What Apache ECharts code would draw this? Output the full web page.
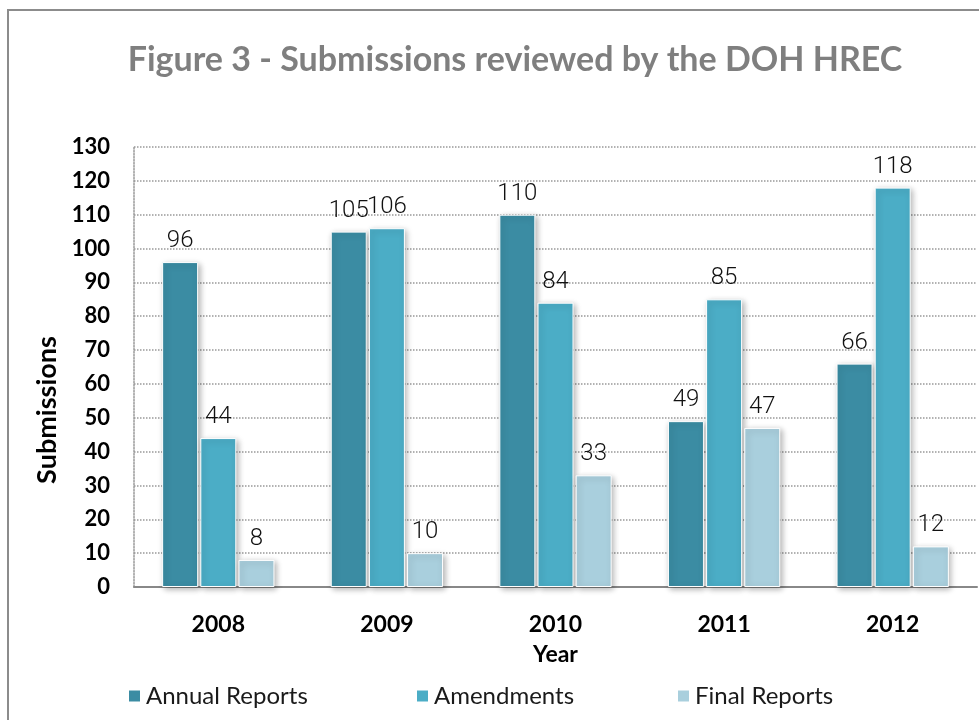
<!DOCTYPE html>
<html>
<head>
<meta charset="utf-8">
<script src="https://cdn.jsdelivr.net/npm/echarts@6/dist/echarts.min.js"></script>
<style>
  html, body { margin: 0; padding: 0; background: #fff; }
  #chart { width: 979px; height: 720px; }
</style>
</head>
<body>
<div id="chart"></div>
<script>
const years = ["2008", "2009", "2010", "2011", "2012"];
const annualReports = [96, 105, 110, 49, 66];
const amendments = [44, 106, 84, 85, 118];
const finalReports = [8, 10, 33, 47, 12];
const seriesNames = ["Annual Reports", "Amendments", "Final Reports"];
const colors = ["#3b8ca3", "#4badc6", "#a9cfdd"];

const labelFont = 'Roboto, sans-serif';
const boldFont = 'Lato, "Open Sans", sans-serif';

const chart = echarts.init(document.getElementById("chart"));

function makeSeries(name, data, color) {
  return {
    name: name,
    type: "bar",
    data: data,
    barWidth: 36,
    barGap: "6%",
    itemStyle: {
      color: color,
      borderColor: "#ffffff",
      borderWidth: 1,
      shadowBlur: 6,
      shadowColor: "rgba(0,0,0,0.3)",
      shadowOffsetX: 2,
      shadowOffsetY: 2
    },
    label: {
      show: true,
      position: "top",
      distance: 9,
      color: "#111",
      fontFamily: labelFont,
      fontWeight: 300,
      fontSize: 24
    },
    emphasis: { disabled: true }
  };
}

function legendAt(name, left) {
  return {
    data: [name],
    left: left,
    top: 679,
    itemWidth: 13,
    itemHeight: 13,
    itemGap: 8,
    icon: "rect",
    textStyle: { fontFamily: boldFont, fontSize: 24, color: "#1a1a1a" }
  };
}

chart.setOption({
  animation: false,
  color: colors,
  title: {
    text: "Figure 3 - Submissions reviewed by the DOH HREC",
    left: 510,
    textAlign: "center",
    top: 38,
    textStyle: { fontFamily: boldFont, fontSize: 34, fontWeight: "bold", color: "#7f7f7f" }
  },
  legend: [
    legendAt(seriesNames[0], 122),
    legendAt(seriesNames[1], 410),
    legendAt(seriesNames[2], 671)
  ],
  graphic: [
    {
      type: "rect",
      shape: { x: 8, y: 10, width: 1200, height: 1200 },
      style: { fill: "none", stroke: "#8c8c8c", lineWidth: 2 },
      silent: true
    },
    {
      type: "text",
      x: 47,
      y: 410,
      rotation: Math.PI / 2,
      style: {
        text: "Submissions",
        fontFamily: boldFont,
        fontWeight: "bold",
        fontSize: 27,
        fill: "#000",
        align: "center",
        verticalAlign: "middle"
      }
    }
  ],
  grid: { left: 134, right: 2, top: 147, bottom: 133, containLabel: false },
  xAxis: {
    type: "category",
    data: years,
    name: "Year",
    nameLocation: "middle",
    nameGap: 56,
    nameTextStyle: { fontFamily: boldFont, fontWeight: "bold", fontSize: 23, color: "#000" },
    axisLine: { lineStyle: { color: "#888", width: 2 } },
    axisTick: { show: false },
    axisLabel: { margin: 26, fontFamily: boldFont, fontWeight: "bold", fontSize: 23, color: "#000" }
  },
  yAxis: {
    type: "value",
    min: 0,
    max: 130,
    interval: 10,
    axisLine: { show: true, lineStyle: { color: "#999", type: "dotted", width: 1.5 } },
    axisTick: { show: false },
    axisLabel: { margin: 24, fontFamily: boldFont, fontWeight: "bold", fontSize: 22, color: "#000" },
    splitLine: { lineStyle: { color: "#999", type: "dotted", width: 1.5 } }
  },
  series: [
    makeSeries(seriesNames[0], annualReports, colors[0]),
    makeSeries(seriesNames[1], amendments, colors[1]),
    makeSeries(seriesNames[2], finalReports, colors[2])
  ]
});
</script>
</body>
</html>
